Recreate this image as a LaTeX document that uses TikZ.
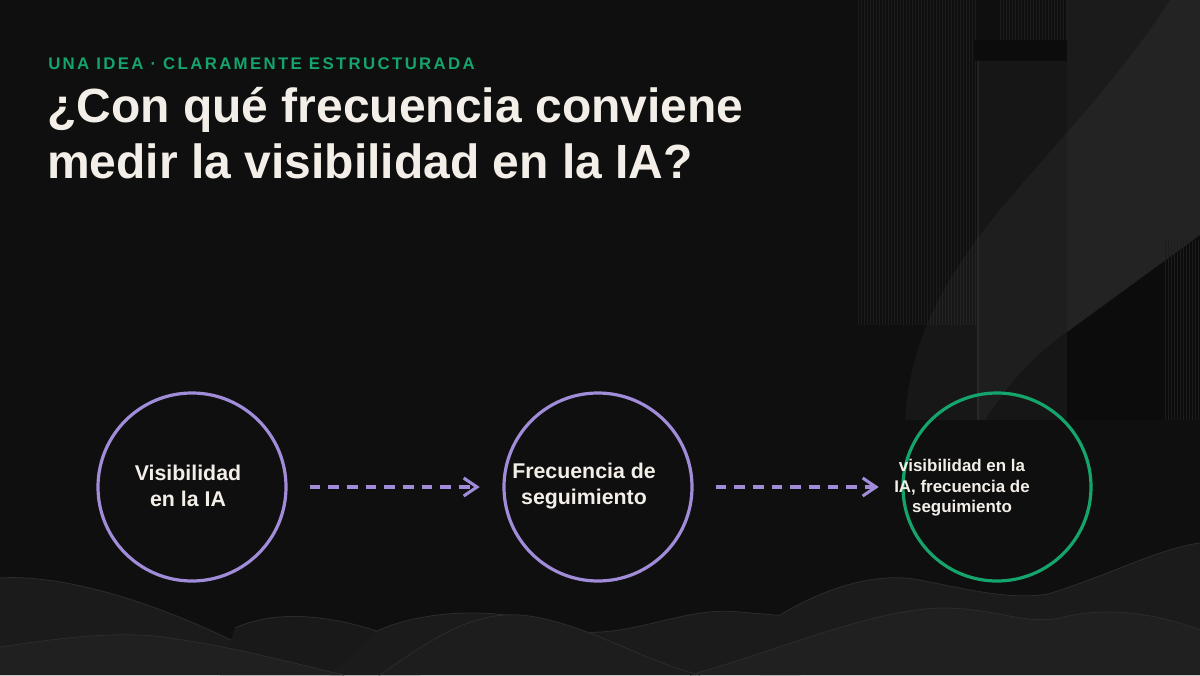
\documentclass[tikz,border=0pt]{standalone}
\usepackage{fontspec}
\setmainfont{Liberation Sans}
\newfontfamily\spacedfont[LetterSpace=14]{Liberation Sans}
\usetikzlibrary{arrows.meta}
\definecolor{bg}{HTML}{0F0F0F}
\definecolor{lav}{HTML}{A08CD8}
\definecolor{grn}{HTML}{14A46C}
\definecolor{ink}{HTML}{F3EFE8}
\begin{document}
\begin{tikzpicture}[x=0.75pt,y=-0.75pt,
  ring/.style={circle,draw=#1,line width=2.4pt,minimum size=141pt,inner sep=0pt},
  flow/.style={draw=lav,line width=2.3pt,dash pattern=on 8pt off 6pt,
     -{Straight Barb[length=10pt,width=13.5pt,line width=2.3pt]},shorten <=16.5pt,shorten >=17pt},
  ctext/.style={text=ink,font=\bfseries\fontsize{16}{19.5}\selectfont,align=center,inner sep=0pt},
  stext/.style={text=ink,font=\bfseries\fontsize{12.7}{15.3}\selectfont,align=center,inner sep=0pt},
  hill/.style={fill=white!#1!bg},
  ridge/.style={draw=white!12!bg,line width=0.6pt}]
\useasboundingbox (0,0) rectangle (1200,675);
\fill[bg] (0,0) rectangle (1200,675);
% right decorations
\fill[bg!80!black] (1067,0) rectangle (1200,420);
\foreach \x in {858,861,...,975}{\draw[white!6!bg,line width=0.5pt] (\x,0) -- (\x,325);}
\foreach \x in {1000,1003,...,1066}{\draw[white!6!bg,line width=0.5pt] (\x,0) -- (\x,40);}
\fill[bg!80!black] (975,40) rectangle (1067,61);
\fill[white!3!bg] (978,61) rectangle (1067,420);
\draw[white!8!bg,line width=0.8pt] (978,61) -- (978,420);
\fill[white!5!bg] (1067,0) -- (1200,0) -- (1200,235) -- (1067,332) -- cycle;
\fill[white,opacity=0.035] (1170,0) .. controls (1060,170) and (915,250) .. (905,420) -- (985,420) .. controls (1010,380) and (1040,350) .. (1067,332) -- (1200,235) -- (1200,0) -- cycle;
\foreach \x in {1165,1168,...,1199}{\draw[white!6!bg,line width=0.5pt] (\x,240) -- (\x,420);}
% bottom hills
\fill[hill=5] (0,675) -- (0,578) .. controls (60,574) and (150,600) .. (235,642) -- (380,675) -- cycle;
\draw[ridge] (0,578) .. controls (60,574) and (150,600) .. (235,642) -- (380,675);
\fill[hill=4] (220,675) -- (235,628) .. controls (270,612) and (320,612) .. (380,632) -- (420,675) -- cycle;
\draw[ridge] (235,628) .. controls (270,612) and (320,612) .. (380,632);
\fill[hill=5] (330,675) -- (375,632) .. controls (420,610) and (500,605) .. (560,628) .. controls (620,645) and (680,605) .. (740,612) .. controls (770,615) and (790,615) .. (800,620) -- (800,675) -- cycle;
\draw[ridge] (375,632) .. controls (420,610) and (500,605) .. (560,628) .. controls (620,645) and (680,605) .. (740,612) .. controls (770,615) and (790,615) .. (800,620);
\fill[hill=5] (760,675) -- (780,615) .. controls (830,585) and (880,572) .. (920,580) .. controls (970,590) and (1010,600) .. (1048,594) .. controls (1110,575) and (1160,548) .. (1200,543) -- (1200,675) -- cycle;
\draw[ridge] (780,615) .. controls (830,585) and (880,572) .. (920,580) .. controls (970,590) and (1010,600) .. (1048,594) .. controls (1110,575) and (1160,548) .. (1200,543);
\fill[hill=7] (0,675) -- (0,647) .. controls (60,638) and (120,630) .. (170,638) .. controls (240,648) and (300,665) .. (344,675) -- cycle;
\draw[ridge] (0,647) .. controls (60,638) and (120,630) .. (170,638) .. controls (240,648) and (300,665) .. (344,675);
\fill[hill=7] (690,675) .. controls (780,650) and (870,610) .. (940,608) .. controls (1000,608) and (1020,625) .. (1060,618) .. controls (1110,605) and (1160,615) .. (1200,630) -- (1200,675) -- cycle;
\draw[ridge] (690,675) .. controls (780,650) and (870,610) .. (940,608) .. controls (1000,608) and (1020,625) .. (1060,618) .. controls (1110,605) and (1160,615) .. (1200,630);
\fill[hill=6] (380,675) .. controls (430,640) and (470,612) .. (520,615) .. controls (580,620) and (640,660) .. (700,675) -- cycle;
\draw[ridge] (380,675) .. controls (430,640) and (470,612) .. (520,615) .. controls (580,620) and (640,660) .. (700,675);
% titles
\node[anchor=base west,inner sep=0pt,text=grn,font=\spacedfont\bfseries\fontsize{12.6}{14}\selectfont] (kicker) at (48,69) {UNA IDEA · CLARAMENTE ESTRUCTURADA};
\node[anchor=base west,inner sep=0pt,text=ink,font=\bfseries\fontsize{36}{42}\selectfont] (title1) at (47,122) {¿Con qué frecuencia conviene};
\node[anchor=base west,inner sep=0pt,text=ink,font=\bfseries\fontsize{36}{42}\selectfont] (title2) at (47,178) {medir la visibilidad en la IA?};
% circles
\node[ring=lav] (c1) at (192,487) {};
\node[ring=lav] (c2) at (598,487) {};
\node[ring=grn] (c3) at (997,487) {};
\node[ctext] (t1) at (188,486) {Visibilidad\\en la IA};
\node[ctext] (t2) at (584,486) {Frecuencia de\\seguimiento};
\node[stext] (t3) at (962,488) {visibilidad en la\\IA, frecuencia de\\seguimiento};
\draw[flow] (c1.east) -- (c2.west);
\draw[flow] (c2.east) -- (c3.west);
\end{tikzpicture}
\end{document}
